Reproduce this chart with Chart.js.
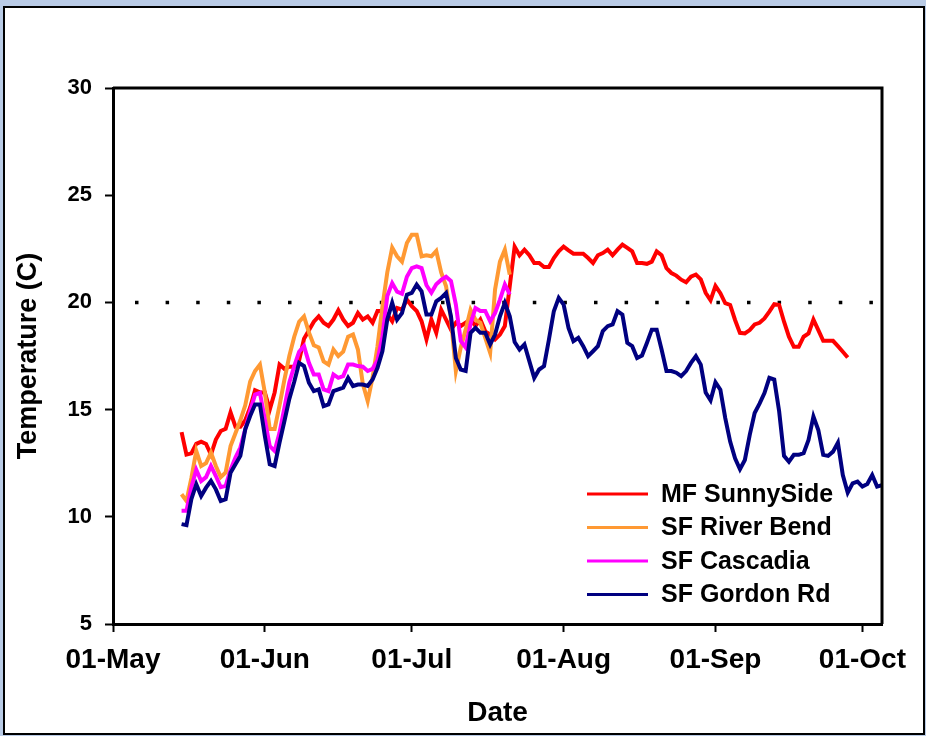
<!DOCTYPE html>
<html>
<head>
<meta charset="utf-8">
<title>Stream temperatures</title>
<script src="https://cdn.jsdelivr.net/npm/chart.js@4.4.1/dist/chart.umd.min.js"></script>
<style>
  html, body { margin: 0; padding: 0; background: #b9cbe6; }
  #frame {
    position: absolute; left: 3px; top: 6px;
    width: 918px; height: 725px;
    border: 2px solid #000; background: #fff;
  }
  #chart { position: absolute; left: 0; top: 0; }
</style>
</head>
<body>
<div id="frame"></div>
<canvas id="chart" width="926" height="736"></canvas>

<script>
// ─── Data: daily mean water temperature (C), days counted from 01-May ───
const startDay = 14;      // 15-May, first logged day
const axisEndDay = 157;   // right edge of the plot (05-Oct)

const tickDays = [0, 31, 61, 92, 123, 153];
const tickLabels = ['01-May', '01-Jun', '01-Jul', '01-Aug', '01-Sep', '01-Oct'];
const yTicks = [5, 10, 15, 20, 25, 30];

const seriesNames = ['MF SunnySide', 'SF River Bend', 'SF Cascadia', 'SF Gordon Rd'];
const seriesColors = ['#ff0000', '#ff9933', '#ff00ff', '#000080'];

const mfSunnySide = [
  13.95, 12.9, 12.96, 13.4, 13.5, 13.4, 12.9, 13.6, 14.0, 14.1,
  14.87, 14.2, 14.2, 14.5, 15.1, 15.9, 15.8, 15.8, 15.0, 15.8,
  17.1, 16.9, 17.0, 17.0, 17.3, 18.3, 18.7, 19.1, 19.35, 19.05,
  18.9, 19.2, 19.63, 19.2, 18.9, 19.05, 19.5, 19.2, 19.35, 19.05,
  19.6, 19.6, 19.43, 19.12, 19.74, 19.66, 20.13, 19.82, 19.6, 19.12,
  18.27, 19.2, 18.58, 19.66, 19.2, 18.73, 19.05, 18.9, 19.05, 19.2,
  18.9, 19.2, 18.65, 18.5, 18.27, 18.5, 18.9, 20.75, 22.6, 22.2,
  22.46, 22.2, 21.84, 21.84, 21.65, 21.65, 22.07, 22.38, 22.6, 22.43,
  22.27, 22.27, 22.27, 22.07, 21.84, 22.2, 22.3, 22.46, 22.2, 22.46,
  22.7, 22.54, 22.38, 21.84, 21.84, 21.8, 21.9, 22.38, 22.2, 21.6,
  21.37, 21.25, 21.06, 20.94, 21.2, 21.3, 21.08, 20.45, 20.1, 20.77,
  20.43, 19.96, 19.88, 19.18, 18.58, 18.55, 18.71, 18.97, 19.05, 19.25,
  19.57, 19.92, 19.88, 19.1, 18.4, 17.93, 17.93, 18.4, 18.55, 19.2,
  18.71, 18.21, 18.21, 18.21, 17.96, 17.7, 17.43
];

const sfRiverBend = [
  11.05, 10.74, 11.8, 13.07, 12.37, 12.5, 13.0, 12.37, 11.85, 12.07,
  13.3, 13.9, 14.5, 15.2, 16.3, 16.8, 17.1, 15.8, 14.1, 14.1,
  15.2, 16.4, 17.5, 18.4, 19.1, 19.35, 18.6, 18.0, 17.9, 17.25,
  17.1, 17.8, 17.5, 17.7, 18.4, 18.5, 17.8, 16.2, 15.4, 16.5,
  17.95, 19.8, 21.4, 22.55, 22.15, 21.9, 22.77, 23.16, 23.16, 22.15,
  22.2, 22.15, 22.4, 21.4, 20.75, 19.2, 16.8, 17.9, 18.73, 19.66,
  19.2, 19.05, 18.35, 17.65, 20.6, 21.9, 22.46, 21.3
];

const sfCascadia = [
  10.28, 10.28, 11.38, 12.2, 11.67, 11.85, 12.37, 11.9, 11.38, 11.44,
  12.2, 12.76, 13.23, 14.08, 14.93, 15.7, 15.78, 14.55, 13.3, 13.07,
  13.93, 15.09, 16.27, 17.03, 17.7, 17.96, 17.18, 16.64, 16.64, 15.94,
  15.86, 16.64, 16.48, 16.56, 17.1, 17.1, 17.03, 17.0, 16.8, 16.9,
  17.3, 18.4, 20.3, 20.9, 20.5, 20.4, 21.2, 21.6, 21.68, 21.6,
  20.8, 20.45, 20.85, 21.05, 21.2, 21.0, 19.9, 18.2, 17.9, 19.0,
  19.74, 19.6, 19.6, 19.12, 19.5, 20.13, 20.83, 20.37
];

const sfGordonRd = [
  9.66, 9.61, 10.82, 11.52, 10.97, 11.36, 11.67, 11.28, 10.74, 10.82,
  12.06, 12.45, 12.84, 14.08, 14.7, 15.24, 15.24, 13.77, 12.45, 12.37,
  13.46, 14.47, 15.5, 16.3, 17.18, 17.03, 16.25, 15.86, 15.94, 15.16,
  15.24, 15.86, 15.94, 16.02, 16.48, 16.1, 16.17, 16.17, 16.1, 16.4,
  16.95, 17.72, 19.2, 19.98, 19.2, 19.5, 20.36, 20.44, 20.83, 20.52,
  19.43, 19.43, 20.05, 20.21, 20.44, 19.35, 17.41, 16.87, 16.8, 18.58,
  18.81, 18.58, 18.58, 18.04, 18.5, 19.35, 19.98, 19.35, 18.15, 17.8,
  18.04, 17.26, 16.48, 16.87, 17.03, 18.27, 19.59, 20.21, 19.9, 18.81,
  18.19, 18.35, 17.96, 17.49, 17.72, 17.96, 18.66, 18.89, 18.97, 19.59,
  19.43, 18.11, 17.96, 17.41, 17.52, 18.11, 18.73, 18.73, 17.8, 16.8,
  16.8, 16.72, 16.56, 16.8, 17.18, 17.49, 17.1, 15.8, 15.43, 16.27,
  15.93, 14.6, 13.51, 12.73, 12.22, 12.65, 13.82, 14.84, 15.28, 15.77,
  16.48, 16.4, 14.92, 12.84, 12.57, 12.89, 12.89, 12.97, 13.59, 14.68,
  14.05, 12.89, 12.84, 13.04, 13.46, 11.95, 11.13, 11.56, 11.64, 11.41,
  11.53, 11.95, 11.41, 11.48
];

// 20 C reference line, drawn across the whole season
const thresholdDays = [0, axisEndDay];
const thresholdTemps = [20, 20];

const FONT = "'Liberation Sans', Arial, sans-serif";

const toPoints = values => values.map((v, i) => ({ x: startDay + i, y: v }));

const series = [mfSunnySide, sfRiverBend, sfCascadia, sfGordonRd];

// later series sit on top, like the spreadsheet draws them
const datasets = series.map((values, i) => ({
  label: seriesNames[i],
  data: toPoints(values),
  borderColor: seriesColors[i],
  borderWidth: 4,
  pointRadius: 0,
  tension: 0,
  order: series.length - i,
}));

datasets.push({
  label: 'threshold',
  data: thresholdDays.map((d, i) => ({ x: d, y: thresholdTemps[i] })),
  borderColor: '#000',
  borderWidth: 3.5,
  borderDash: [3.5, 27.1],
  borderDashOffset: 8.6,
  borderCapStyle: 'butt',
  pointRadius: 0,
  order: 10,
});

// closes the plot box on the top and right sides
const plotFrame = {
  id: 'plotFrame',
  afterDatasetsDraw(chart) {
    const { ctx, chartArea: a } = chart;
    ctx.save();
    ctx.strokeStyle = '#000';
    ctx.lineWidth = 3;
    ctx.beginPath();
    ctx.moveTo(a.left, a.top);
    ctx.lineTo(a.right, a.top);
    ctx.lineTo(a.right, a.bottom);
    ctx.stroke();
    ctx.restore();
  },
};

// legend inside the lower right of the plot
const insetLegend = {
  id: 'insetLegend',
  afterDraw(chart) {
    const { ctx, chartArea: a } = chart;
    const x0 = a.right - 295;
    const y0 = a.bottom - 130;
    ctx.save();
    ctx.font = `bold 25px ${FONT}`;
    ctx.textBaseline = 'middle';
    ctx.fillStyle = '#000';
    seriesNames.forEach((name, i) => {
      const y = y0 + i * 33.5;
      ctx.strokeStyle = seriesColors[i];
      ctx.lineWidth = 3;
      ctx.beginPath();
      ctx.moveTo(x0, y);
      ctx.lineTo(x0 + 61, y);
      ctx.stroke();
      ctx.fillText(name, x0 + 74, y + 1);
    });
    ctx.restore();
  },
};

new Chart(document.getElementById('chart'), {
  type: 'line',
  data: { datasets },
  plugins: [plotFrame, insetLegend],
  options: {
    responsive: false,
    animation: false,
    layout: { padding: { left: 0, top: 88, right: 44, bottom: 0 } },
    plugins: {
      legend: { display: false },
      tooltip: { enabled: false },
    },
    scales: {
      x: {
        type: 'linear',
        min: 0,
        max: axisEndDay,
        afterFit: s => { s.height = 112; },
        afterBuildTicks: s => { s.ticks = tickDays.map(v => ({ value: v })); },
        ticks: {
          callback: (v, i) => tickLabels[i],
          autoSkip: false,
          maxRotation: 0,
          padding: 11,
          color: '#000',
          font: { family: FONT, size: 28, weight: 'bold' },
        },
        grid: { drawOnChartArea: false, tickLength: 8, tickWidth: 2, tickColor: '#000' },
        border: { color: '#000', width: 3 },
        title: {
          display: true,
          text: 'Date',
          color: '#000',
          padding: { top: 0, bottom: 6 },
          font: { family: FONT, size: 28, weight: 'bold', lineHeight: 1.2 },
        },
      },
      y: {
        min: 5,
        max: 30,
        afterFit: s => { s.width = 113; },
        afterBuildTicks: s => { s.ticks = yTicks.map(v => ({ value: v })); },
        ticks: {
          padding: 13,
          color: '#000',
          font: { family: FONT, size: 22, weight: 'bold' },
        },
        grid: { drawOnChartArea: false, tickLength: 8, tickWidth: 2, tickColor: '#000' },
        border: { color: '#000', width: 3 },
        title: {
          display: true,
          text: 'Temperature (C)',
          color: '#000',
          padding: { top: 12, bottom: 0 },
          font: { family: FONT, size: 27, weight: 'bold', lineHeight: 1.2 },
        },
      },
    },
  },
});
</script>
</body>
</html>
